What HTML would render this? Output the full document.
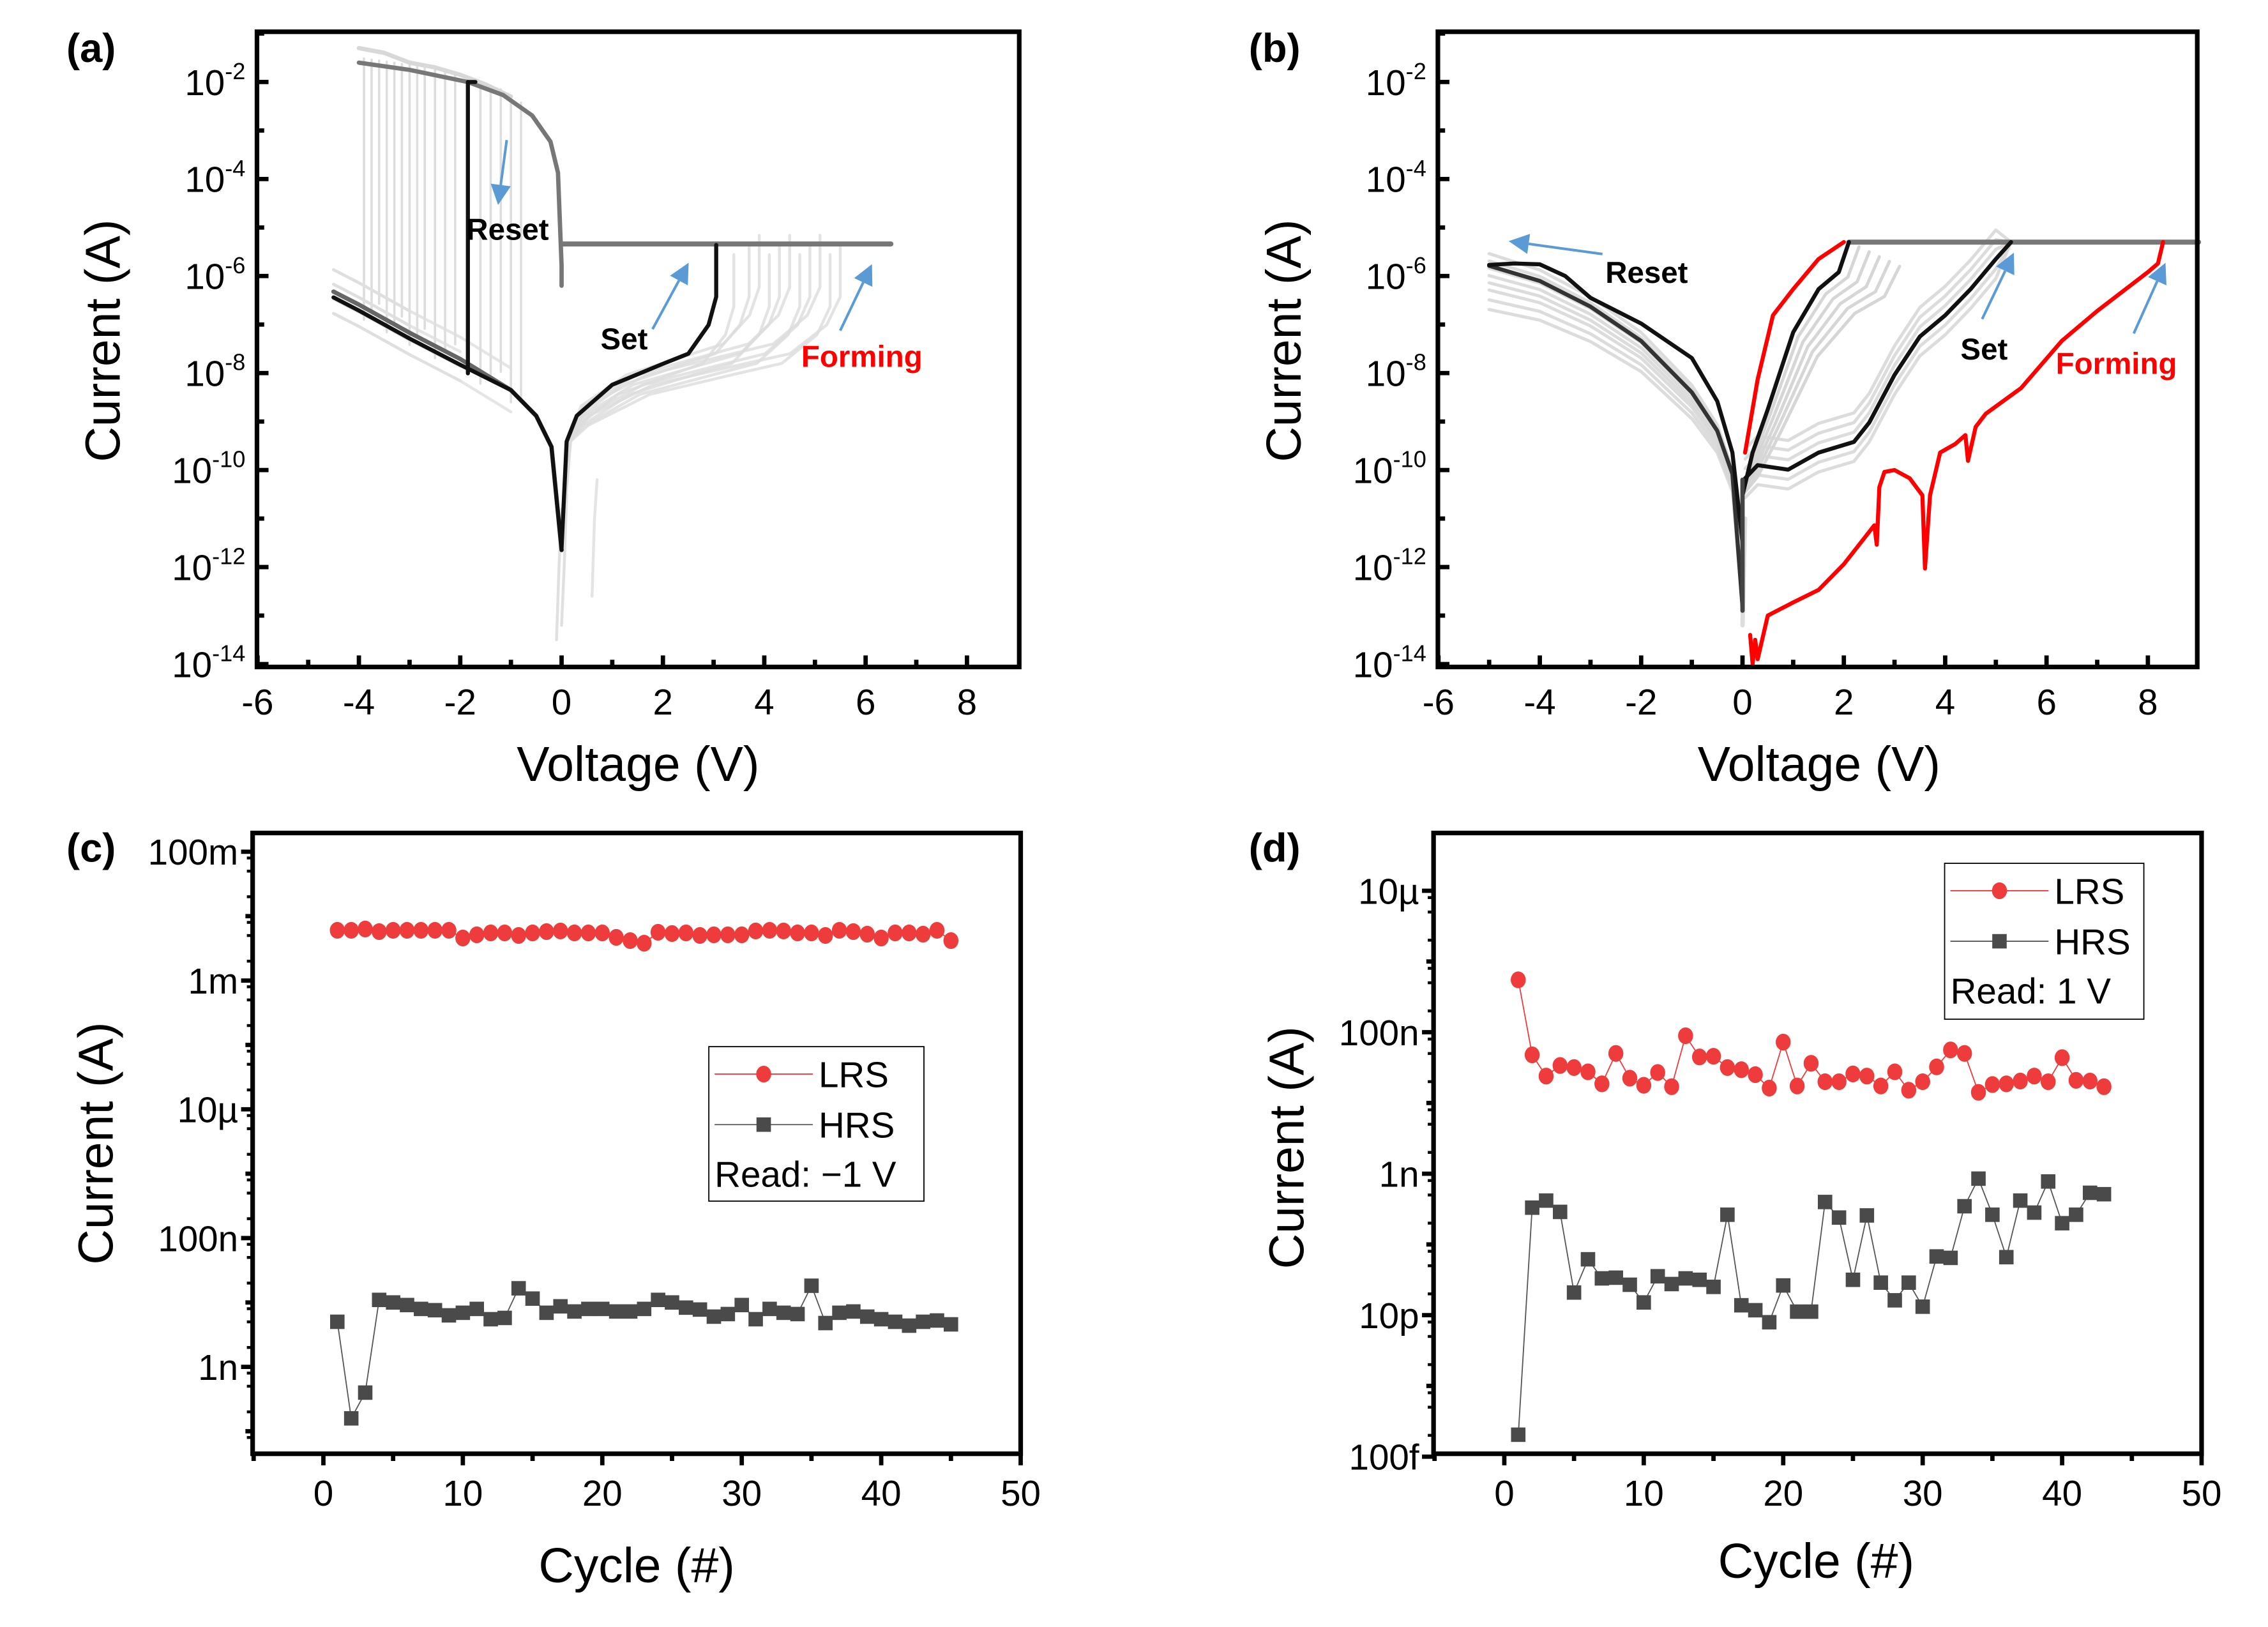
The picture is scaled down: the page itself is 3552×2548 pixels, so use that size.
<!DOCTYPE html>
<html><head><meta charset="utf-8">
<style>
html,body{margin:0;padding:0;background:#fff;}
svg{display:block;font-family:"Liberation Sans",sans-serif;}
</style></head>
<body>
<svg id="fig" xmlns="http://www.w3.org/2000/svg" width="3552" height="2548" viewBox="0 0 1571 1127" preserveAspectRatio="none">
<rect x="0" y="0" width="1571" height="1127" fill="#fff"/>
<g id="pa"></g>
<g id="pb"></g>
<g id="pc"></g>
<g id="pd"></g>
</svg>
<script>
// ---------- DATA ----------
// Panel (a): voltage (V) / log10 current (A)
const aHrsNegV = [-4.5,-4,-3,-2,-1,-0.5,-0.2,0];
const aHrsNegL = [-6.32,-6.59,-7.17,-7.71,-8.35,-8.88,-9.52,-11.65];
const aResetV = -1.85;
const aLrsV = [-4,-3,-1.85,-1.15,-0.58,-0.22,-0.07,0,0];
const aLrsL = [-1.6,-1.75,-2.0,-2.27,-2.69,-3.23,-3.87,-5.79,-6.2];
const aCompV = [0,6.5];
const aCompL = -5.34;
const aSetV = [0,0.1,0.3,1,2,2.5,2.9,3.05,3.05];
const aSetL = [-11.6,-9.41,-8.88,-8.24,-7.81,-7.6,-7.01,-6.43,-5.36];
const aGreyResetV = [-3.9,-3.75,-3.6,-3.45,-3.3,-3.15,-3.0,-2.85,-2.7,-2.5,-2.3,-2.1,-1.6,-1.4,-1.2,-1.0,-0.8];
const aGreySetV = [3.4,3.7,3.9,4.1,4.3,4.5,4.7,4.9,5.1,5.3,5.5];
// Panel (b)
const bNeg1V = [-5,-4,-3,-2,-1,-0.5,-0.2,0];
const bNeg1L = [-5.79,-6.10,-6.63,-7.34,-8.40,-9.19,-10.08,-12.82];
const bNeg2V = [-5,-4.5,-4,-3.5,-3,-2,-1,-0.5,-0.2,0];
const bNeg2L = [-5.77,-5.74,-5.76,-6.0,-6.45,-6.98,-7.69,-8.58,-9.64,-11.5];
const bSetLV = [0,0.2,0.5,1,1.5,1.9,2.1];
const bSetLL = [-10.52,-9.64,-8.75,-7.16,-6.27,-5.92,-5.3];
const bSetRV = [0.05,0.3,0.9,1.5,2.2,2.5,3,3.5,4,4.5,5,5.3];
const bSetRL = [-10.17,-9.90,-9.99,-9.64,-9.42,-9.02,-8.04,-7.25,-6.81,-6.27,-5.65,-5.3];
const bFormV = [0.15,0.2,0.25,0.3,0.5,1,1.5,2,2.6,2.65,2.7,2.8,3.0,3.3,3.55,3.6,3.7,3.9,4.2,4.4,4.45,4.6,4.8,5.5,6.3,7,8,8.2,8.3];
const bFormL = [-13.4,-14,-13.5,-13.9,-13.0,-12.73,-12.47,-11.94,-11.14,-11.54,-10.35,-10.04,-10.0,-10.17,-10.52,-12.03,-10.52,-9.64,-9.46,-9.28,-9.81,-9.11,-8.84,-8.31,-7.34,-6.72,-5.92,-5.74,-5.3];
const bFormLrsV = [0.05,0.3,0.6,1,1.5,2];
const bFormLrsL = [-9.64,-8.13,-6.81,-6.27,-5.65,-5.3];
const bCompV = [2.1,9];
const bCompL = -5.3;
const bGreyNegOff = [-0.9,-0.7,-0.5,-0.35,-0.2,-0.05,0.1,0.25];
const bGreyLOff = [0.2,0.4,0.6,0.8,1.0];
const bGreyROff = [-0.4,-0.2,0.2,0.4,0.6];
// Panel (c)
const cCycles = Array.from({length:45},(_,i)=>i+1);
const cLrsLog = [-2.22,-2.22,-2.20,-2.24,-2.22,-2.22,-2.22,-2.22,-2.22,-2.34,-2.29,-2.26,-2.26,-2.30,-2.26,-2.24,-2.23,-2.26,-2.26,-2.26,-2.33,-2.38,-2.42,-2.25,-2.27,-2.26,-2.30,-2.29,-2.29,-2.29,-2.23,-2.22,-2.23,-2.26,-2.26,-2.30,-2.22,-2.24,-2.28,-2.34,-2.26,-2.26,-2.28,-2.22,-2.38];
const cHrsLog = [-8.30,-9.80,-9.40,-7.96,-8.00,-8.04,-8.10,-8.12,-8.20,-8.16,-8.10,-8.26,-8.24,-7.78,-7.94,-8.16,-8.06,-8.14,-8.10,-8.10,-8.14,-8.14,-8.10,-7.96,-8.00,-8.08,-8.11,-8.22,-8.18,-8.04,-8.26,-8.10,-8.16,-8.18,-7.74,-8.32,-8.16,-8.14,-8.22,-8.26,-8.30,-8.36,-8.30,-8.28,-8.34];
const cYTickLabels = ["100m","1m","10µ","100n","1n"];
const cYTickLogs = [-1,-3,-5,-7,-9];
const xTickLabels = ["0","10","20","30","40","50"];
// Panel (d)
const dCycles = Array.from({length:43},(_,i)=>i+1);
const dLrsLog = [-6.26,-7.32,-7.62,-7.47,-7.50,-7.56,-7.73,-7.30,-7.65,-7.75,-7.57,-7.77,-7.05,-7.35,-7.34,-7.50,-7.53,-7.60,-7.79,-7.14,-7.76,-7.44,-7.70,-7.70,-7.59,-7.62,-7.76,-7.56,-7.82,-7.70,-7.49,-7.25,-7.30,-7.85,-7.74,-7.73,-7.69,-7.62,-7.70,-7.36,-7.68,-7.69,-7.77];
const dHrsLog = [-12.69,-9.48,-9.38,-9.54,-10.68,-10.21,-10.48,-10.47,-10.57,-10.82,-10.45,-10.56,-10.48,-10.50,-10.60,-9.58,-10.86,-10.93,-11.10,-10.58,-10.95,-10.95,-9.40,-9.62,-10.50,-9.59,-10.54,-10.79,-10.54,-10.88,-10.17,-10.19,-9.46,-9.07,-9.58,-10.18,-9.38,-9.55,-9.11,-9.70,-9.58,-9.27,-9.29];
const dYTickLabels = ["10µ","100n","1n","10p","100f"];
const dYTickLogs = [-5,-7,-9,-11,-13];

// ---------- HELPERS ----------
const NS="http://www.w3.org/2000/svg";
function mk(parent,tag,attrs,text){const e=document.createElementNS(NS,tag);for(const k in attrs)e.setAttribute(k,attrs[k]);if(text!==undefined)e.textContent=text;parent.appendChild(e);return e;}
function pts(vs,ls,fx,fy){return vs.map((v,i)=>fx(v).toFixed(1)+","+fy(Array.isArray(ls)?ls[i]:ls).toFixed(1)).join(" ");}

// ---------- PANEL A / B (IV) ----------
function ivAxes(g,L,T,R,B,x0,fx,fy){
  mk(g,"rect",{x:L,y:T,width:R-L,height:B-T,fill:"none",stroke:"#000","stroke-width":3.2});
  for(let v=-6;v<=8;v+=2){
    const t=mk(g,"line",{x1:fx(v),x2:fx(v),y1:B,y2:B-8,stroke:"#000","stroke-width":3});
    
    const lb=mk(g,"text",{x:fx(v),y:B+33,"text-anchor":"middle","font-size":25},String(v));
    
    if(v<8) mk(g,"line",{x1:fx(v+1),x2:fx(v+1),y1:B,y2:B-5,stroke:"#000","stroke-width":3});
  }
  for(let e=-14;e<=-1;e++){
    const major=(e%2===0);
    mk(g,"line",{x1:L,x2:L+(major?8:5),y1:fy(e),y2:fy(e),stroke:"#000","stroke-width":3});
    if(major){
      const t=mk(g,"text",{x:L-8,y:fy(e)+9,"text-anchor":"end","font-size":25});
      
      mk(t,"tspan",{},"10");
      mk(t,"tspan",{dy:-11,"font-size":16},String(e));
    }
  }
}
function arrow(g,x1,y1,x2,y2,name){
  const a=Math.atan2(y2-y1,x2-x1),h=14,w=7;
  const bx=x2-h*Math.cos(a),by=y2-h*Math.sin(a);
  const grp=mk(g,"g",{});
  
  mk(grp,"line",{x1:x1,y1:y1,x2:bx,y2:by,stroke:"#5b9bd5","stroke-width":1.8});
  mk(grp,"polygon",{points:`${x2},${y2} ${bx+w*Math.sin(a)},${by-w*Math.cos(a)} ${bx-w*Math.sin(a)},${by+w*Math.cos(a)}`,fill:"#5b9bd5"});
}
function line(g,vs,ls,fx,fy,col,w,name,op){
  const p=mk(g,"polyline",{points:pts(vs,ls,fx,fy),fill:"none",stroke:col,"stroke-width":w,"stroke-linejoin":"round","stroke-linecap":"round",opacity:op===undefined?1:op});
  
  return p;
}
function interp(vs,ls,v){for(let i=0;i<vs.length-1;i++){if((v>=vs[i]&&v<=vs[i+1])||(v<=vs[i]&&v>=vs[i+1])){const t=(v-vs[i])/((vs[i+1]-vs[i])||1);return ls[i]+t*(ls[i+1]-ls[i]);}}return ls[ls.length-1];}

// Panel A
(function(){
  const g=document.getElementById('pa');
  const L=178,R=706,T=22,B=462;
  const fx=v=>389+(v)*35.1, fy=l=>460-(l+14)*33.6;
  aGreyResetV.forEach((vr,i)=>{
    const hl=interp(aHrsNegV,aHrsNegL,vr)+((i%3)-1)*0.25;
    line(g,[vr,vr],[hl,interp(aLrsV,aLrsL,vr)+0.1],fx,fy,"#d4d4d4",1.6,"grey-reset-jump",0.8);
    line(g,aHrsNegV.filter(v=>v<=vr),aHrsNegV.filter(v=>v<=vr).map(v=>interp(aHrsNegV,aHrsNegL,v)+((i%4)-1.5)*0.3),fx,fy,"#dedede",2,"grey-hrs-neg",0.8);
  });
  line(g,[-4,-3.5,-3,-2.5,-2,-1.5,-1],[-1.3,-1.4,-1.6,-1.7,-1.85,-2.05,-2.3],fx,fy,"#d8d8d8",3,"grey-lrs-top");
  aGreySetV.forEach((vs,i)=>{
    const f=vs/3.05;
    line(g,aSetV.map(v=>v*f),aSetL.map((l,k)=>k<2?l:l+((i%3)-1)*0.2),fx,fy,"#dcdcdc",2,"grey-set-curve",0.8);
  });
  line(g,[0,0.05,0.1],[-13.2,-12,-10.5],fx,fy,"#e0e0e0",2,"grey-spike");
  line(g,[-0.1,-0.05,0],[-13.5,-12,-10.8],fx,fy,"#e0e0e0",2,"grey-spike");
  line(g,[0.6,0.65,0.7],[-12.6,-11,-10.2],fx,fy,"#e4e4e4",2,"grey-spike");
  line(g,aLrsV,aLrsL,fx,fy,"#777",3,"lrs-reset-curve");
  line(g,aCompV,[aCompL,aCompL],fx,fy,"#777",3.5,"compliance-line");
  line(g,aHrsNegV,aHrsNegL,fx,fy,"#666",3,"hrs-negative-curve-grey");
  line(g,aHrsNegV,aHrsNegL.map((l,i)=>l+(i<4?-0.12:0)),fx,fy,"#111",2.8,"hrs-negative-curve");
  line(g,[aResetV,aResetV,-1.7],[interp(aHrsNegV,aHrsNegL,aResetV)-0.2,-2.0,-2.0],fx,fy,"#111",2.8,"reset-jump");
  line(g,aSetV,aSetL,fx,fy,"#111",2.8,"set-curve");
  ivAxes(g,L,T,R,B,389,fx,fy);
  arrow(g,351,97,345,142,"reset-arrow");
  arrow(g,452,228,477,182,"set-arrow");
  arrow(g,582,229,604,183,"forming-arrow");
  mk(g,"text",{x:323,y:166,"font-size":21,"font-weight":"bold",},"Reset");
  mk(g,"text",{x:416,y:242,"font-size":21,"font-weight":"bold",},"Set");
  mk(g,"text",{x:555,y:254,"font-size":21,"font-weight":"bold",fill:"#ff0000",},"Forming");
  mk(g,"text",{x:442,y:541,"text-anchor":"middle","font-size":34,},"Voltage (V)");
  mk(g,"text",{transform:"translate(83,236) rotate(-90)","text-anchor":"middle","font-size":34,},"Current (A)");
  mk(g,"text",{x:46,y:43,"font-size":28,"font-weight":"bold",},"(a)");
})();

// Panel B
(function(){
  const g=document.getElementById('pb');
  const L=996,R=1522,T=22,B=462;
  const fx=v=>1207+v*35.1, fy=l=>460-(l+14)*33.6;
  bGreyNegOff.forEach(o=>{
    line(g,bNeg1V,bNeg1L.map((l,i)=>i<bNeg1L.length-1?l+o*(1-i/10):l),fx,fy,"#d6d6d6",2.2,"grey-reset-curve",0.85);
  });
  bGreyLOff.forEach(o=>{
    line(g,bSetLV.map(v=>v===0?0:v+o*(v/2.1)),bSetLL.map((l,i)=>i===0?l:l-o*0.5),fx,fy,"#cfcfcf",2.2,"grey-set-curve-left",0.85);
  });
  bGreyROff.forEach(o=>{
    line(g,bSetRV,bSetRL.map((l,i)=>i===bSetRL.length-1?l:l+o),fx,fy,"#d6d6d6",2.2,"grey-set-curve-right",0.85);
  });
  line(g,[0,0.05],[-13.2,-11],fx,fy,"#ddd",3,"grey-spike");
  line(g,bCompV,[bCompL,bCompL],fx,fy,"#777",3.5,"compliance-line");
  line(g,bFormV,bFormL,fx,fy,"#ff0000",2.8,"forming-curve");
  line(g,bFormLrsV,bFormLrsL,fx,fy,"#ff0000",2.8,"forming-lrs-curve");
  line(g,bNeg1V,bNeg1L,fx,fy,"#333",2.8,"reset-curve-1");
  line(g,bNeg2V,bNeg2L,fx,fy,"#111",2.8,"reset-curve-2");
  line(g,bSetLV,bSetLL,fx,fy,"#111",2.8,"lrs-set-curve");
  line(g,bSetRV,bSetRL,fx,fy,"#111",2.8,"hrs-set-curve");
  line(g,[0,0],[-12.9,-10.2],fx,fy,"#444",3,"zero-spike");
  ivAxes(g,L,T,R,B,1207,fx,fy);
  arrow(g,1110,176,1045,167,"reset-arrow");
  arrow(g,1373,221,1395,175,"set-arrow");
  arrow(g,1478,231,1500,182,"forming-arrow");
  mk(g,"text",{x:1112,y:196,"font-size":21,"font-weight":"bold",},"Reset");
  mk(g,"text",{x:1358,y:249,"font-size":21,"font-weight":"bold",},"Set");
  mk(g,"text",{x:1424,y:259,"font-size":21,"font-weight":"bold",fill:"#ff0000",},"Forming");
  mk(g,"text",{x:1260,y:541,"text-anchor":"middle","font-size":34,},"Voltage (V)");
  mk(g,"text",{transform:"translate(901,236) rotate(-90)","text-anchor":"middle","font-size":34,},"Current (A)");
  mk(g,"text",{x:865,y:43,"font-size":28,"font-weight":"bold",},"(b)");
})();

// ---------- PANEL C / D (endurance) ----------
function endurance(g,o){
  const {L,R,T,B,x0,xs,fy,lrs,hrs,cyc,tickLabels,tickLogs,minLog,maxLog}=o;
  const fx=c=>x0+c*xs;
  mk(g,"rect",{x:L,y:T,width:R-L,height:B-T,fill:"none",stroke:"#000","stroke-width":3.2});
  for(let c=-5;c<=50;c+=5){
    const major=(c%10===0);
    mk(g,"line",{x1:fx(c),x2:fx(c),y1:B,y2:B+(major?8:5),stroke:"#000","stroke-width":3});
  }
  xTickLabels.forEach((t,i)=>{
    const e=mk(g,"text",{x:fx(i*10),y:B+36,"text-anchor":"middle","font-size":25},t);
    
  });
  for(let e=Math.ceil(minLog);e<=maxLog;e++){
    mk(g,"line",{x1:L,x2:L-(e%2===(tickLogs[0]%2)?8:5),y1:fy(e),y2:fy(e),stroke:"#000","stroke-width":3});
    for(let m=2;m<10;m+=3){const lm=e-1+Math.log10(m);if(lm>minLog)mk(g,"line",{x1:L,x2:L-4,y1:fy(lm),y2:fy(lm),stroke:"#000","stroke-width":2});}
  }
  tickLabels.forEach((t,i)=>{
    const e=mk(g,"text",{x:L-10,y:fy(tickLogs[i])+9,"text-anchor":"end","font-size":25},t);
    
  });
  const lp=mk(g,"polyline",{points:cyc.map((c,i)=>fx(c).toFixed(1)+","+fy(lrs[i]).toFixed(1)).join(" "),fill:"none",stroke:"#ee3b3b","stroke-width":0.8});
  
  const hp=mk(g,"polyline",{points:cyc.map((c,i)=>fx(c).toFixed(1)+","+fy(hrs[i]).toFixed(1)).join(" "),fill:"none",stroke:"#555","stroke-width":0.8});
  
  cyc.forEach((c,i)=>{
    const m=mk(g,"ellipse",{cx:fx(c),cy:fy(lrs[i]),rx:5.2,ry:5.8,fill:"#ee3b3b"});
    
    const s=mk(g,"rect",{x:fx(c)-5,y:fy(hrs[i])-5,width:10,height:10,fill:"#4a4a4a"});
    
  });
}
function legend(g,x,y,w,h,read){
  const lg=mk(g,"g",{});
  
  mk(lg,"rect",{x:x,y:y,width:w,height:h,fill:"#fff",stroke:"#000","stroke-width":0.8});
  mk(lg,"line",{x1:x+4,x2:x+72,y1:y+19,y2:y+19,stroke:"#ee3b3b","stroke-width":0.8});
  mk(lg,"ellipse",{cx:x+38,cy:y+19,rx:5.2,ry:5.8,fill:"#ee3b3b"});
  mk(lg,"text",{x:x+76,y:y+28,"font-size":25,},"LRS");
  mk(lg,"line",{x1:x+4,x2:x+72,y1:y+54,y2:y+54,stroke:"#555","stroke-width":0.8});
  mk(lg,"rect",{x:x+33,y:y+49,width:10,height:10,fill:"#4a4a4a"});
  mk(lg,"text",{x:x+76,y:y+63,"font-size":25,},"HRS");
  mk(lg,"text",{x:x+4,y:y+97,"font-size":25,},read);
}
(function(){
  const g=document.getElementById('pc');
  const fy=l=>590+(-1-l)*44.6;
  endurance(g,{L:175,R:707,T:577,B:1007,x0:224,xs:9.66,fy,lrs:cLrsLog,hrs:cHrsLog,cyc:cCycles,tickLabels:cYTickLabels,tickLogs:cYTickLogs,minLog:-10.3,maxLog:-1});
  legend(g,491,725,149,107,"Read: \u22121 V");
  mk(g,"text",{x:441,y:1096,"text-anchor":"middle","font-size":34,},"Cycle (#)");
  mk(g,"text",{transform:"translate(78,792) rotate(-90)","text-anchor":"middle","font-size":34,},"Current (A)");
  mk(g,"text",{x:46,y:597,"font-size":28,"font-weight":"bold",},"(c)");
})();
(function(){
  const g=document.getElementById('pd');
  const fy=l=>617+(-5-l)*49;
  endurance(g,{L:993,R:1525,T:577,B:1007,x0:1042,xs:9.66,fy,lrs:dLrsLog,hrs:dHrsLog,cyc:dCycles,tickLabels:dYTickLabels,tickLogs:dYTickLogs,minLog:-13,maxLog:-4.2});
  legend(g,1347,598,138,108,"Read: 1 V");
  mk(g,"text",{x:1258,y:1093,"text-anchor":"middle","font-size":34,},"Cycle (#)");
  mk(g,"text",{transform:"translate(903,795) rotate(-90)","text-anchor":"middle","font-size":34,},"Current (A)");
  mk(g,"text",{x:865,y:597,"font-size":28,"font-weight":"bold",},"(d)");
})();
</script>
</body></html>
